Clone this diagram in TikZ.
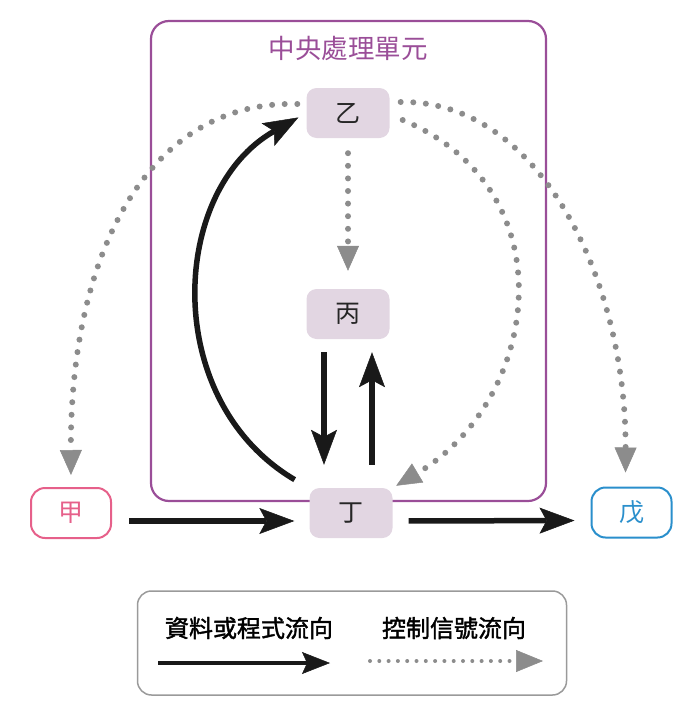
\documentclass[tikz,border=0pt]{standalone}
\usepackage{fontspec}
\newfontfamily\cjk{Noto Sans CJK TC}
\newfontfamily\cjkmid[FakeBold=1.6]{Noto Sans CJK TC}
\usepackage{tikz}
\usetikzlibrary{arrows.meta}
\definecolor{cpupurple}{HTML}{9A4E98}
\definecolor{unitbg}{HTML}{E2D6E2}
\definecolor{jiapink}{HTML}{E6608A}
\definecolor{wublue}{HTML}{2A8FCC}
\definecolor{dotgray}{HTML}{8C8C8C}
\definecolor{legendgray}{HTML}{9A9A9A}

\begin{document}
\begin{tikzpicture}[x=1pt, y=-1pt,
		unit/.style={fill=unitbg, rounded corners=10pt, minimum width=83pt, minimum height=50pt, inner sep=0pt, text=black!85, font=\cjk\fontsize{25}{25}\selectfont},
		io/.style={draw, line width=2pt, fill=white, rounded corners=14pt, minimum width=80pt, minimum height=50pt, inner sep=0pt, font=\cjk\fontsize{25}{25}\selectfont},
		dataflow/.style={draw=black!90, line width=5.5pt, -{Stealth[length=35pt, width=26pt, inset=7pt, line width=0.5pt]}},
		ctrlflow/.style={draw=dotgray, line width=6pt, line cap=round, dash pattern=on 0pt off 12.6pt, -{Triangle[length=25pt, width=22pt, line width=0.5pt]}},
		legendtext/.style={font=\cjkmid\fontsize{24}{24}\selectfont}]
	\useasboundingbox (0,0) rectangle (692,712);
	% CPU frame
	\node[draw=cpupurple, line width=2.2pt, rounded corners=18pt, minimum width=395pt, minimum height=480pt] (cpu) at (348.5,261) {};
	\node[text=cpupurple, font=\cjk\fontsize{26.5}{26.5}\selectfont] (cputitle) at (348,48) {中央處理單元};
	% units
	\node[unit] (yi) at (348,113) {乙};
	\node[unit] (bing) at (348,314) {丙};
	\node[unit] (ding) at (351,513) {丁};
	\node[io, draw=jiapink, text=jiapink] (jia) at (71,513) {甲};
	\node[io, draw=wublue, text=wublue] (wu) at (631.5,512.5) {戊};
	% data flow
	\draw[dataflow, shorten <=17pt, shorten >=15pt] ([yshift=-8pt]jia.east) -- ([yshift=-8pt]ding.west);
	\draw[dataflow, shorten <=16pt, shorten >=16pt] ([yshift=-8pt]ding.east) -- ([yshift=-8pt]wu.west);
	\draw[dataflow, shorten <=13pt, shorten >=23pt] ([xshift=-24pt]bing.south) -- ([xshift=-27pt]ding.north);
	\draw[dataflow, shorten <=23pt, shorten >=13pt] ([xshift=21pt]ding.north) -- ([xshift=24pt]bing.south);
	\draw[dataflow, shorten <=17pt, shorten >=9pt] (ding) .. controls (160,400) and (170,190) .. (yi.west);
	% control flow
	\draw[ctrlflow, shorten <=15pt, shorten >=18pt] (yi.south) -- (bing.north);
	\draw[ctrlflow, shorten >=12pt] ([xshift=-9pt, yshift=9pt]yi.west) .. controls (150,100) and (70,250) .. (jia.north);
	\draw[ctrlflow, shorten >=14pt] ([xshift=11pt, yshift=11pt]yi.east) .. controls (540,100) and (626,280) .. ([xshift=-6pt]wu.north);
	\draw[ctrlflow, shorten >=4pt] ([xshift=13pt, yshift=-7pt]yi.east) .. controls (570,190) and (540,400) .. (ding.north east);
	% legend
	\node[draw=legendgray, line width=1.5pt, rounded corners=14pt, minimum width=429pt, minimum height=104pt] (legend) at (352,643) {};
	\node[legendtext] (datatext) at (249,628) {資料或程式流向};
	\node[legendtext] (ctrltext) at (454,628) {控制信號流向};
	\coordinate (data0) at (158,663);
	\coordinate (data1) at (330,663);
	\coordinate (ctrl0) at (370,661);
	\coordinate (ctrl1) at (543,661);
	\draw[dataflow, line width=4pt, -{Stealth[length=28pt, width=22pt, inset=5pt, line width=0.5pt]}] (data0) -- (data1);
	\draw[ctrlflow, line width=4pt, dash pattern=on 0pt off 9.3pt, -{Triangle[length=27pt, width=22pt, line width=0.5pt]}] (ctrl0) -- (ctrl1);
\end{tikzpicture}
\end{document}
